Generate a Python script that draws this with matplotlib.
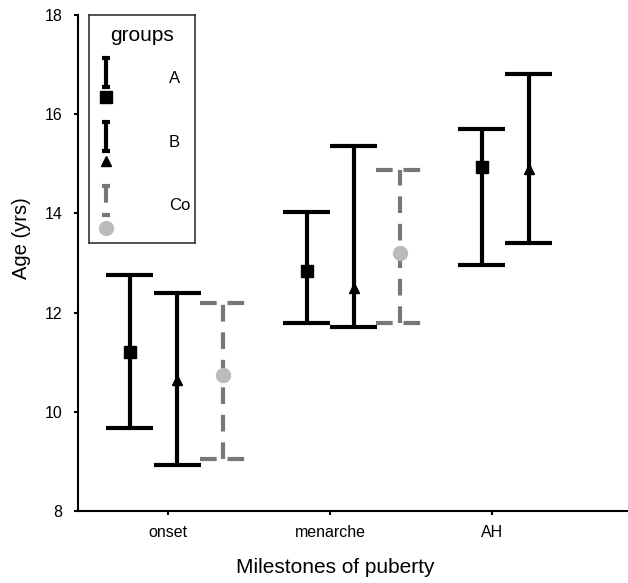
import numpy as np
import matplotlib
matplotlib.use("Agg")
import matplotlib.pyplot as plt

plt.rcParams['font.family'] = ['Liberation Sans', 'DejaVu Sans']

# ------------------------------------------------------------------
# Datos
# ------------------------------------------------------------------
milestones = ["onset", "menarche", "AH"]
groups = ["A", "B", "Co"]

# media, límite inferior, límite superior por grupo y hito
mean_A = [11.20, 12.84, 14.94]
low_A = [9.67, 11.79, 12.96]
high_A = [12.76, 14.03, 15.70]

mean_B = [10.65, 12.50, 14.90]
low_B = [8.93, 11.71, 13.40]
high_B = [12.40, 15.36, 16.81]

mean_Co = [10.74, 13.20]
low_Co = [9.05, 11.79]
high_Co = [12.19, 14.87]

# posiciones x de cada grupo (en unidades de categoría)
x_A = [0.765, 1.858, 2.938]
x_B = [1.056, 2.148, 3.228]
x_Co = [1.340, 2.432]

CAP = 0.145

fig = plt.figure(figsize=(6.28, 5.83), dpi=100)
ax = fig.add_axes([0.124, 0.1235, 0.876, 0.851])


def draw_bars(x, lo, hi, color, ls):
    ax.vlines(x, lo, hi, color=color, lw=3, linestyle=ls)
    ax.hlines(lo, np.array(x) - CAP, np.array(x) + CAP, color=color, lw=3, linestyle=ls)
    ax.hlines(hi, np.array(x) - CAP, np.array(x) + CAP, color=color, lw=3, linestyle=ls)


dash = (0, (4, 2.6))
draw_bars(x_A, low_A, high_A, "black", "solid")
draw_bars(x_B, low_B, high_B, "black", "solid")
draw_bars(x_Co, low_Co, high_Co, "#777777", dash)

ax.plot(x_A, mean_A, ls="none", marker="s", ms=8, color="black")
ax.plot(x_B, mean_B, ls="none", marker="^", ms=7, color="black")
ax.plot(x_Co, mean_Co, ls="none", marker="o", ms=10, color="#bbbbbb", zorder=3)

ax.set_xlim(0.444, 3.84)
ax.set_ylim(8, 18)
ax.set_xticks([1, 2, 3])
ax.set_xticklabels(milestones, fontsize=11.5)
ax.set_yticks(np.arange(8, 19, 2))
ax.tick_params(axis="y", labelsize=11.5, length=3, width=1.5, pad=8)
ax.tick_params(axis="x", length=3, width=1.5, pad=7)
for s in ["top", "right"]:
    ax.spines[s].set_visible(False)
for s in ["left", "bottom"]:
    ax.spines[s].set_linewidth(1.5)

ax.set_ylabel("Age (yrs)", fontsize=14.5)
ax.yaxis.set_label_coords(-0.085, 0.55)
ax.set_xlabel("Milestones of puberty", fontsize=15)
ax.xaxis.set_label_coords(0.467, -0.094)

# ------------------------------------------------------------------
# Leyenda manual (caja con barras verticales y marcador debajo)
# ------------------------------------------------------------------
lg = fig.add_axes([89 / 628, 1 - 243 / 583, 106 / 628, 228 / 583])
lg.set_xlim(0, 106)
lg.set_ylim(228, 0)
lg.set_xticks([])
lg.set_yticks([])
for s in lg.spines.values():
    s.set_linewidth(1.2)
    s.set_color("#333333")
lg.patch.set_alpha(0)
lg.text(53, 20, "groups", ha="center", va="center", fontsize=15)

styles = [("black", "solid", "s", 8, "black"),
          ("black", "solid", "^", 7, "black"),
          ("#777777", dash, "o", 10, "#bbbbbb")]
for i, (g, st) in enumerate(zip(groups, styles)):
    col, ls, mk, ms, mc = st
    top = 43 + i * 64
    bot = top + 29
    lg.vlines(17, top, bot, color=col, lw=3, linestyle=ls)
    lg.hlines([top, bot], 13, 21, color=col, lw=3)
    lg.plot(17, bot + 10 + (3 if mk == "o" else 0), marker=mk, ms=ms, color=mc, ls="none")
    lg.text(80, top + 20, g, ha="left", va="center", fontsize=12)

fig.savefig("out.png", dpi=100)
